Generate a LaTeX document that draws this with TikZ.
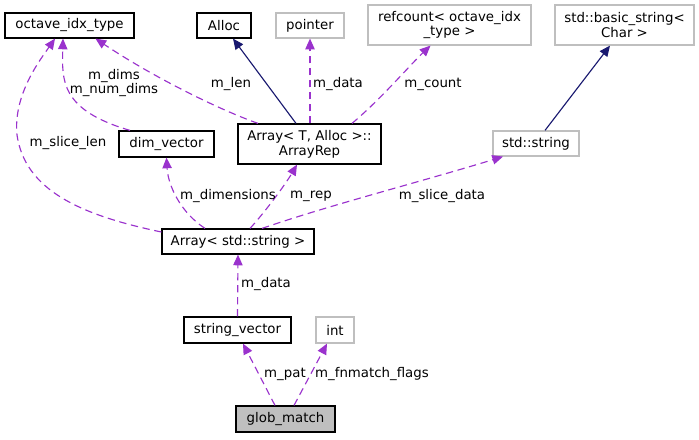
\documentclass[tikz,border=0pt]{standalone}
\usepackage{fontspec}
\setmainfont{DejaVu Sans}
\usetikzlibrary{arrows.meta,calc}
\definecolor{depc}{HTML}{9A32CD}
\definecolor{inhc}{HTML}{191970}
\definecolor{greyb}{HTML}{BFBFBF}
\begin{document}
\begin{tikzpicture}[x=0.75pt,y=-0.75pt,font=\fontsize{10}{11.2}\selectfont,
  cls/.style={draw=black,line width=0.9pt,inner sep=0pt,align=center,fill=white},
  ext/.style={cls,draw=greyb},
  hl/.style={cls,fill=greyb},
  depa/.style={draw=depc,line width=0.85pt,dash pattern=on 5.5pt off 3.5pt,
     -{Triangle[length=8pt,width=7pt,fill=depc]}},
  inha/.style={draw=inhc,line width=0.85pt,
     -{Triangle[length=8pt,width=7pt,fill=inhc]}},
  lbl/.style={inner sep=0pt,align=center}]
\useasboundingbox[fill=white] (0,0) rectangle (699,439);
% nodes
\node[cls,minimum width=96.75pt,minimum height=18.75pt] (oit) at (69.5,25.5) {octave\_idx\_type};
\node[cls,minimum width=40.5pt,minimum height=18.75pt] (alloc) at (224,25.5) {Alloc};
\node[ext,minimum width=51pt,minimum height=18.75pt] (pointer) at (310,25.5) {pointer};
\node[ext,minimum width=122.25pt,minimum height=30pt] (refc) at (449.5,25) {refcount< octave\_idx\\\_type >};
\node[ext,minimum width=104.25pt,minimum height=30pt] (bstr) at (624.5,25) {std::basic\_string<\\Char >};
\node[cls,minimum width=71.25pt,minimum height=19.5pt] (dimv) at (166.5,144) {dim\_vector};
\node[cls,minimum width=107.25pt,minimum height=30pt] (arep) at (309.5,144) {Array< T, Alloc >::\\ArrayRep};
\node[ext,minimum width=64.5pt,minimum height=18.75pt] (sstr) at (536,143.5) {std::string};
\node[cls,minimum width=114pt,minimum height=18.75pt] (astr) at (238,241.5) {Array< std::string >};
\node[cls,minimum width=80.25pt,minimum height=19.5pt] (svec) at (237.5,330) {string\_vector};
\node[ext,minimum width=28.5pt,minimum height=19.5pt] (int) at (335,330) {int};
\node[hl,minimum width=74.25pt,minimum height=19.5pt] (glob) at (285.5,419) {glob\_match};
% edges
\draw[inha] ($(arep.north)+(-13.5,0)$) -- ($(alloc.south)+(9,0)$);
\draw[depa] ($(arep.north)+(0.5,0)$) -- (pointer.south);
\draw[depa] ($(arep.north)+(42.5,0)$) .. controls (380,100) and (410,65) .. ($(refc.south)+(-19,0)$);
\draw[depa] ($(arep.north)+(-51.5,0)$) .. controls (215,108) and (150,75) .. ($(oit.south)+(26,0)$);
\draw[depa] ($(dimv.north)+(-36.5,0)$) .. controls (60,110) and (62,80) .. ($(oit.south)+(-6.5,0)$);
\draw[depa] ($(astr.west)+(0,-9.5)$) .. controls (80,215) and (25,190) .. (17,135) .. controls (13,95) and (40,60) .. ($(oit.south)+(-14.5,0)$);
\draw[depa] ($(astr.north)+(-33,0)$) .. controls (180,212) and (168,185) .. (dimv.south);
\draw[depa] ($(astr.north)+(12,0)$) .. controls (265,212) and (285,185) .. ($(arep.south)+(-12.5,0)$);
\draw[depa] ($(astr.north)+(24,0)$) .. controls (330,205) and (420,182) .. ($(sstr.south)+(-33,0)$);
\draw[inha] ($(sstr.north)+(9,0)$) -- ($(bstr.south)+(-14.5,0)$);
\draw[depa] (svec.north) -- (astr.south);
\draw[depa] ($(glob.north)+(-10.5,0)$) -- ($(svec.south)+(5.5,0)$);
\draw[depa] ($(glob.north)+(8.5,0)$) -- ($(int.south)+(-8,0)$);
% labels
\node[lbl] (l1) at (231,84) {m\_len};
\node[lbl] (l2) at (338,84) {m\_data};
\node[lbl] (l3) at (433,84) {m\_count};
\node[lbl] (l4) at (114,83) {m\_dims\\m\_num\_dims};
\node[lbl] (l5) at (68,143) {m\_slice\_len};
\node[lbl] (l6) at (228,196) {m\_dimensions};
\node[lbl] (l7) at (311,196) {m\_rep};
\node[lbl] (l8) at (442,196) {m\_slice\_data};
\node[lbl] (l9) at (266,284) {m\_data};
\node[lbl] (l10) at (285,374) {m\_pat};
\node[lbl] (l11) at (372,374) {m\_fnmatch\_flags};
\end{tikzpicture}
\end{document}
